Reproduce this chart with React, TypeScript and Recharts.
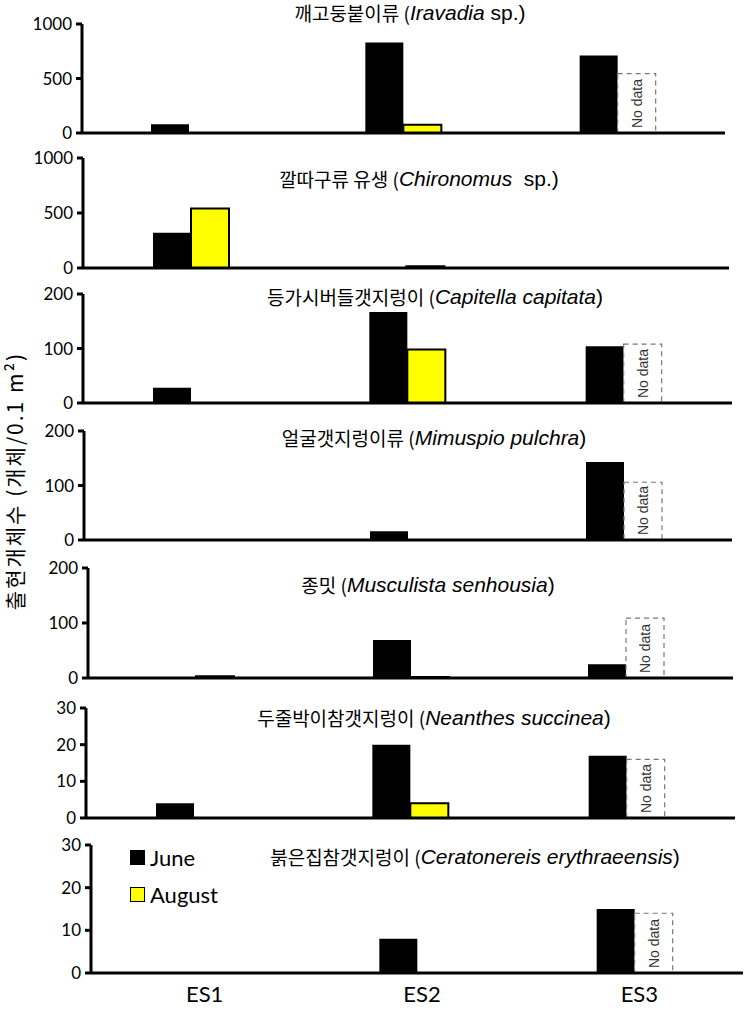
import React from 'react';
import { BarChart, Bar, XAxis, YAxis, Legend } from 'recharts';

const stations = ['ES1', 'ES2', 'ES3'];
const seriesNames = ['June', 'August'];
const seriesColors = ['#000000', '#ffff00'];

// values (individuals / 0.1 m2)
const iravadiaJune = [80, 830, 710];
const iravadiaAugust = [0, 75, null];
const iravadiaNoData = [null, null, 545];

const chironomusJune = [320, 0, 0];
const chironomusAugust = [540, 15, 0];
const chironomusNoData = [null, null, null];

const capitellaJune = [28, 167, 104];
const capitellaAugust = [0, 98, null];
const capitellaNoData = [null, null, 108];

const mimuspioJune = [2, 16, 143];
const mimuspioAugust = [0, 0, null];
const mimuspioNoData = [null, null, 106];

const musculistaJune = [0, 69, 25];
const musculistaAugust = [3, 2, null];
const musculistaNoData = [null, null, 109];

const neanthesJune = [4, 20, 17];
const neanthesAugust = [0, 4, null];
const neanthesNoData = [null, null, 16];

const ceratonereisJune = [0, 8, 15];
const ceratonereisAugust = [0, 0, null];
const ceratonereisNoData = [null, null, 14];

const ticks1000 = [0, 500, 1000];
const ticks200 = [0, 100, 200];
const ticks30 = [0, 10, 20, 30];

const panels = [
  { korean: '깨고둥붙이류', latin: 'Iravadia', suffix: ' sp.', june: iravadiaJune, august: iravadiaAugust, noData: iravadiaNoData, ticks: ticks1000 },
  { korean: '깔따구류 유생', latin: 'Chironomus', suffix: '  sp.', june: chironomusJune, august: chironomusAugust, noData: chironomusNoData, ticks: ticks1000 },
  { korean: '등가시버들갯지렁이', latin: 'Capitella capitata', suffix: '', june: capitellaJune, august: capitellaAugust, noData: capitellaNoData, ticks: ticks200 },
  { korean: '얼굴갯지렁이류', latin: 'Mimuspio pulchra', suffix: '', june: mimuspioJune, august: mimuspioAugust, noData: mimuspioNoData, ticks: ticks200 },
  { korean: '종밋', latin: 'Musculista senhousia', suffix: '', june: musculistaJune, august: musculistaAugust, noData: musculistaNoData, ticks: ticks200 },
  { korean: '두줄박이참갯지렁이', latin: 'Neanthes succinea', suffix: '', june: neanthesJune, august: neanthesAugust, noData: neanthesNoData, ticks: ticks30 },
  { korean: '붉은집참갯지렁이', latin: 'Ceratonereis erythraeensis', suffix: '', june: ceratonereisJune, august: ceratonereisAugust, noData: ceratonereisNoData, ticks: ticks30 },
];

// page positions of each plot area, the panels were pasted together so they differ a bit
const layouts = [
  { left: 82, right: 725, top: 24, bottom: 133, titleX: 410, titleY: 12 },
  { left: 83, right: 729, top: 158, bottom: 268, titleX: 419, titleY: 178 },
  { left: 83, right: 732, top: 294, bottom: 403, titleX: 435, titleY: 296 },
  { left: 84, right: 732, top: 431, bottom: 540, titleX: 434, titleY: 437 },
  { left: 88, right: 733, top: 568, bottom: 678, titleX: 428, titleY: 584 },
  { left: 86, right: 735, top: 708, bottom: 818, titleX: 434, titleY: 717 },
  { left: 91, right: 743, top: 845, bottom: 973, titleX: 475, titleY: 856 },
];

const tickFont = { fontFamily: 'Lato', fontSize: 17, fill: '#000' };
const axisLine = { stroke: '#000', strokeWidth: 3 };

function NoDataShape(props: any) {
  const { x, y, width, height, payload } = props;
  if (!payload || payload.noData == null || !height || height <= 0) return null;
  const cx = x + width / 2;
  const by = y + height - 5;
  return (
    <g>
      <rect x={x} y={y} width={width} height={height} fill="#fff" stroke="#777" strokeWidth={1.2} strokeDasharray="5 4" />
      <text
        transform={`translate(${cx},${by}) rotate(-90)`}
        textAnchor="start"
        dominantBaseline="central"
        fontFamily="Liberation Sans"
        fontSize={14}
        fill="#333"
      >
        No data
      </text>
    </g>
  );
}

function LegendBox() {
  return (
    <div style={{ fontFamily: 'Lato', fontSize: 22, color: '#000' }}>
      {seriesNames.map((name, i) => (
        <div key={name} style={{ display: 'flex', alignItems: 'center', height: 37 }}>
          <span
            style={{
              display: 'inline-block',
              width: 13,
              height: 13,
              background: seriesColors[i],
              border: '1.5px solid #000',
              marginRight: 5,
            }}
          />
          <span>{name}</span>
        </div>
      ))}
    </div>
  );
}

function SpeciesPanel({ panel, layout, isBottom }: any) {
  const data = stations.map((station, i) => ({
    station,
    june: panel.june[i],
    august: panel.august[i],
    noData: panel.noData[i],
  }));
  const padTop = 14;
  const padBottom = isBottom ? 37 : 12;
  const svgTop = layout.top - padTop;
  const height = layout.bottom + padBottom - svgTop;
  const edgeHeight = 10;
  const catHeight = isBottom ? 25 : 0;
  const yMax = panel.ticks[panel.ticks.length - 1];

  return (
    <div style={{ position: 'absolute', left: 0, top: svgTop }}>
      <BarChart
        width={754}
        height={height}
        data={data}
        barGap={0}
        barSize={38}
        margin={{ top: padTop, right: 754 - layout.right, bottom: padBottom - edgeHeight - catHeight, left: layout.left - 40 }}
      >
        <XAxis
          xAxisId="a"
          type="number"
          domain={[0, 3]}
          ticks={[0, 1, 2, 3]}
          tick={false}
          tickSize={6}
          height={edgeHeight}
          axisLine={axisLine}
          tickLine={axisLine}
        />
        <XAxis
          xAxisId="b"
          dataKey="station"
          hide={!isBottom}
          height={catHeight}
          axisLine={false}
          tickLine={false}
          tick={{ fontFamily: 'Lato', fontSize: 22, fill: '#000', dx: 5, dy: -3 }}
          tickMargin={0}
        />
        <YAxis
          width={40}
          domain={[0, yMax]}
          ticks={panel.ticks}
          interval={0}
          tick={tickFont}
          tickSize={6}
          tickMargin={4}
          axisLine={axisLine}
          tickLine={axisLine}
        />
        <Bar xAxisId="b" dataKey="june" name="June" stackId="j" fill={seriesColors[0]} isAnimationActive={false} />
        <Bar
          xAxisId="b"
          dataKey="august"
          name="August"
          stackId="a"
          fill={seriesColors[1]}
          stroke="#000"
          strokeWidth={2}
          isAnimationActive={false}
        />
        <Bar xAxisId="b" dataKey="noData" stackId="a" shape={NoDataShape} isAnimationActive={false} />
        {isBottom && (
          <Legend
            layout="horizontal"
            verticalAlign="middle"
            align="center"
            content={<LegendBox />}
            wrapperStyle={{ left: 130, top: 8, width: 'auto' }}
          />
        )}
      </BarChart>
    </div>
  );
}

export default function App() {
  return (
    <div style={{ position: 'absolute', left: 0, top: 0, width: 754, height: 1010, background: '#fff', overflow: 'hidden' }}>
      {panels.map((panel, i) => (
        <SpeciesPanel key={panel.latin} panel={panel} layout={layouts[i]} isBottom={i === panels.length - 1} />
      ))}
      <svg width={754} height={1010} style={{ position: 'absolute', left: 0, top: 0, pointerEvents: 'none' }}>
        {panels.map((panel, i) => (
          <text
            key={panel.latin}
            x={layouts[i].titleX}
            y={layouts[i].titleY}
            textAnchor="middle"
            dominantBaseline="central"
            fontSize={19}
            fill="#000"
            style={{ whiteSpace: 'pre' }}
          >
            <tspan fontFamily="Noto Sans CJK KR">{panel.korean} (</tspan>
            <tspan fontFamily="Liberation Sans" fontStyle="italic" fontSize={21}>{panel.latin}</tspan>
            <tspan fontFamily="Liberation Sans" fontSize={21}>{panel.suffix})</tspan>
          </text>
        ))}
        <text
          transform="translate(14,481) rotate(-90)"
          textAnchor="middle"
          dominantBaseline="central"
          fontFamily="Noto Sans CJK KR"
          fontSize={21}
          letterSpacing={2}
          fill="#000"
        >
          출현개체수 (개체/0.1 m²)
        </text>
      </svg>
    </div>
  );
}
